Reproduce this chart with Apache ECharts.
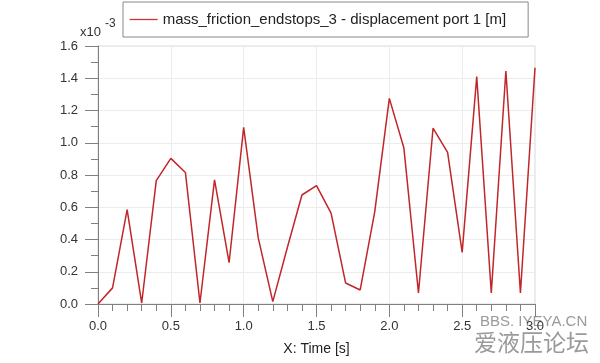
<!DOCTYPE html>
<html><head><meta charset="utf-8">
<script src="https://cdn.jsdelivr.net/npm/echarts@6/dist/echarts.min.js"></script>
<style>html,body{margin:0;padding:0;background:#fff}#c{width:600px;height:363px}</style>
</head><body><div id="c"></div>
<script>
const times = [0.0,0.1,0.2,0.3,0.4,0.5,0.6,0.7,0.8,0.9,1.0,1.1,1.2,1.3,1.4,1.5,1.6,1.7,1.8,1.9,2.0,2.1,2.2,2.3,2.4,2.5,2.6,2.7,2.8,2.9,3.0];
const displacement = [0.0,0.10,0.585,0.006,0.765,0.903,0.816,0.006,0.77,0.256,1.095,0.41,0.015,0.35,0.676,0.734,0.564,0.13,0.087,0.573,1.275,0.967,0.068,1.09,0.94,0.32,1.41,0.068,1.445,0.068,1.465];
const seriesName = 'mass_friction_endstops_3 - displacement port 1 [m]';
const xName = 'X: Time [s]';
const font = 'Liberation Sans, Arial, sans-serif';
const chart = echarts.init(document.getElementById('c'));
chart.setOption({
  animation:false,
  backgroundColor:'#fff',
  grid:{left:98,right:65,top:46,bottom:59,show:true,borderColor:'#d8d8d8',borderWidth:1},
  legend:{left:123,top:2,padding:[10,22,10,6],borderColor:'#888',borderWidth:1,itemWidth:28,itemHeight:14,itemGap:0,
    lineStyle:{color:'#c83535',width:1.3},itemStyle:{opacity:0},
    textStyle:{fontFamily:font,fontSize:15,color:'#222'},data:[seriesName]},
  xAxis:{type:'value',min:0,max:3,interval:0.5,name:xName,nameLocation:'middle',nameGap:38,
    nameTextStyle:{fontFamily:font,fontSize:14,color:'#222'},
    axisLine:{lineStyle:{color:'#808080',width:1}},
    axisTick:{show:true,inside:false,length:13,lineStyle:{color:'#808080'}},
    minorTick:{show:true,splitNumber:5,length:7,lineStyle:{color:'#808080'}},
    splitLine:{show:true,lineStyle:{color:'#ececec'}},
    axisLabel:{fontFamily:font,fontSize:13,color:'#333',margin:16,formatter:v=>v.toFixed(1)}},
  yAxis:{type:'value',min:0,max:1.6,interval:0.2,
    axisLine:{show:true,lineStyle:{color:'#808080',width:1}},
    axisTick:{show:true,inside:false,length:13,lineStyle:{color:'#808080'}},
    minorTick:{show:true,splitNumber:2,length:7,lineStyle:{color:'#808080'}},
    splitLine:{show:true,lineStyle:{color:'#ececec'}},
    axisLabel:{fontFamily:font,fontSize:13,color:'#333',margin:20,formatter:v=>v.toFixed(1)}},
  graphic:[
    {type:'text',left:80,top:26,style:{text:'x10',font:'13px '+font,fill:'#333'}},
    {type:'text',left:105,top:18,style:{text:'-3',font:'12px '+font,fill:'#333'}},
    {type:'text',left:480,top:314,style:{text:'BBS. IYEYA.CN',font:'15px '+font,fill:'#9a9a9a'}},
    {type:'text',left:474,top:331,style:{text:'爱液压论坛',font:'23px "Noto Sans CJK SC", sans-serif',fill:'#9a9a9a'}}
  ],
  series:[{name:seriesName,type:'line',symbol:'none',color:'#c0262a',lineStyle:{width:1.5,color:'#c0262a'},
    data:times.map((t,i)=>[t,displacement[i]])}]
});
</script></body></html>
